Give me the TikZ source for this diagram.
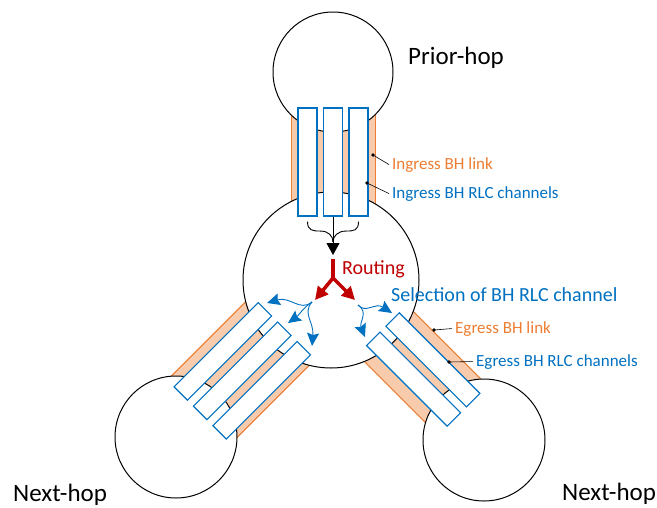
\documentclass[tikz,border=0pt]{standalone}
\usepackage{fontspec}
\setmainfont{Carlito}
\usetikzlibrary{arrows.meta, positioning}
\definecolor{linkorange}{HTML}{ED7D31}
\definecolor{linkfill}{HTML}{F8CBAD}
\definecolor{chanblue}{HTML}{0070C0}
\definecolor{routered}{HTML}{C00000}
\tikzstyle{hop} = [circle, draw=black, fill=white, line width=1pt, inner sep=0pt]
\tikzstyle{link} = [draw=linkorange, fill=linkfill, line width=1pt]
\tikzstyle{channel} = [rectangle, draw=chanblue, fill=white, line width=1.1pt, inner sep=0pt, minimum width=19pt]
\tikzstyle{hoplabel} = [inner sep=0pt, anchor=base west, font=\fontsize{25}{30}\selectfont]
\tikzstyle{notelabel} = [inner sep=0pt, anchor=base west, font=\fontsize{17}{20}\selectfont]
\tikzstyle{steplabel} = [inner sep=0pt, anchor=base west, font=\fontsize{20}{24}\selectfont]
\tikzstyle{leader} = [black, line width=0.6pt]
\tikzstyle{merge} = [black, line width=0.9pt]
\tikzstyle{route} = [routered, line width=3.5pt]
\tikzstyle{pick} = [chanblue, line width=0.9pt, -{Stealth[length=13pt,width=12pt,inset=2pt]}]

\begin{document}
\begin{tikzpicture}[x=1pt, y=1pt]
    \useasboundingbox (0,0) rectangle (657,-507);
    \coordinate (hub) at (331,-280);
    % backhaul links
    \draw[link] (291,-110) rectangle (375,-212);
    \begin{scope}[shift={(hub)}, rotate=135]
        \draw[link] (-45,60) rectangle (45,192);
    \end{scope}
    \begin{scope}[shift={(hub)}, rotate=225]
        \draw[link] (-36,60) rectangle (34,196);
    \end{scope}
    % IAB nodes
    \node (prior) [hop, minimum size=120pt] at (333,-72) {};
    \node (relay) [hop, minimum size=176pt] at (hub) {};
    \node (nextL) [hop, minimum size=122pt] at (176,-437) {};
    \node (nextR) [hop, minimum size=122pt] at (484,-440) {};
    % RLC channels
    \node (in1) [channel, minimum height=108pt] at (307.5,-162) {};
    \node (in2) [channel, minimum height=108pt] at (333,-162) {};
    \node (in3) [channel, minimum height=108pt] at (358.5,-162) {};
    \begin{scope}[shift={(hub)}, rotate=135, transform shape]
        \node (outL1) [channel, minimum height=119pt] at (26,127) {};
        \node (outL2) [channel, minimum height=119pt] at (-1.5,127) {};
        \node (outL3) [channel, minimum height=119pt] at (-29,127) {};
    \end{scope}
    \begin{scope}[shift={(hub)}, rotate=225, transform shape]
        \node (outR1) [channel, minimum height=114pt] at (-15.6,128.5) {};
        \node (outR2) [channel, minimum height=114pt] at (11.7,128.5) {};
    \end{scope}
    % merging into routing
    \coordinate (join) at (333,-242);
    \coordinate (mergetip) at (333,-255);
    \draw[merge] ([yshift=-5pt]in1.south) .. controls +(0,-9) and +(-8,0) .. ++(13,-9.5) .. controls +(8,0) and +(0,6) .. (join);
    \draw[merge] ([yshift=-5pt]in3.south) .. controls +(0,-9) and +(8,0) .. ++(-12.5,-9.5) .. controls +(-8,0) and +(0,6) .. (join);
    \draw[merge, -{Triangle[length=12pt,width=13pt]}] (in2.south) -- (mergetip);
    % routing
    \coordinate (rtop) at (333,-259);
    \coordinate (fork) at (333,-278);
    \coordinate (rleft) at (315,-300);
    \coordinate (rright) at (355,-300);
    \draw[route] (rtop) -- (fork);
    \draw[route, line join=miter, {Triangle[length=13pt,width=13pt]}-{Triangle[length=13pt,width=13pt]}] (rleft) -- (fork) -- (rright);
    % channel selection
    \coordinate (selL) at (312,-302);
    \coordinate (selR) at (358,-305);
    \coordinate (pickL1) at (267,-303);
    \coordinate (pickL2) at (288,-323);
    \coordinate (pickL3) at (312,-346);
    \coordinate (pickR1) at (392,-313);
    \coordinate (pickR2) at (365,-337);
    \draw[pick] (selL) .. controls (300,-312) and (290,-296) .. (pickL1);
    \draw[pick] (selL) .. controls (304,-307) and (298,-316) .. (pickL2);
    \draw[pick] (selL) .. controls (302,-313) and (314,-322) .. (pickL3);
    \draw[pick] (selR) .. controls (366,-314) and (375,-302) .. (pickR1);
    \draw[pick] (selR) .. controls (369,-312) and (359,-322) .. (pickR2);
    % labels
    \node (priorlab) [hoplabel] at (408,-64) {Prior-hop};
    \node (nextLlab) [hoplabel] at (13,-501) {Next-hop};
    \node (nextRlab) [hoplabel] at (562,-500) {Next-hop};
    \node (routelab) [steplabel, text=routered] at (342,-274) {Routing};
    \node (sellab) [steplabel, text=chanblue] at (391,-301) {Selection of BH RLC channel};
    \node (ilinklab) [notelabel, text=linkorange] at (392,-169) {Ingress BH link};
    \node (ichanlab) [notelabel, text=chanblue] at (392,-198) {Ingress BH RLC channels};
    \node (elinklab) [notelabel, text=linkorange] at (455,-333) {Egress BH link};
    \node (echanlab) [notelabel, text=chanblue] at (476,-366) {Egress BH RLC channels};
    % leaders
    \coordinate (ilink) at (373,-155);
    \coordinate (ichan) at (367,-183);
    \coordinate (elink) at (434,-330);
    \coordinate (echan) at (449,-362);
    \foreach \dot/\lab in {ilink/ilinklab, ichan/ichanlab, elink/elinklab, echan/echanlab} {
        \fill (\dot) circle (1.8pt);
        \draw[leader] (\dot) -- ([xshift=-3pt]\lab.west);
    }
\end{tikzpicture}
\end{document}
